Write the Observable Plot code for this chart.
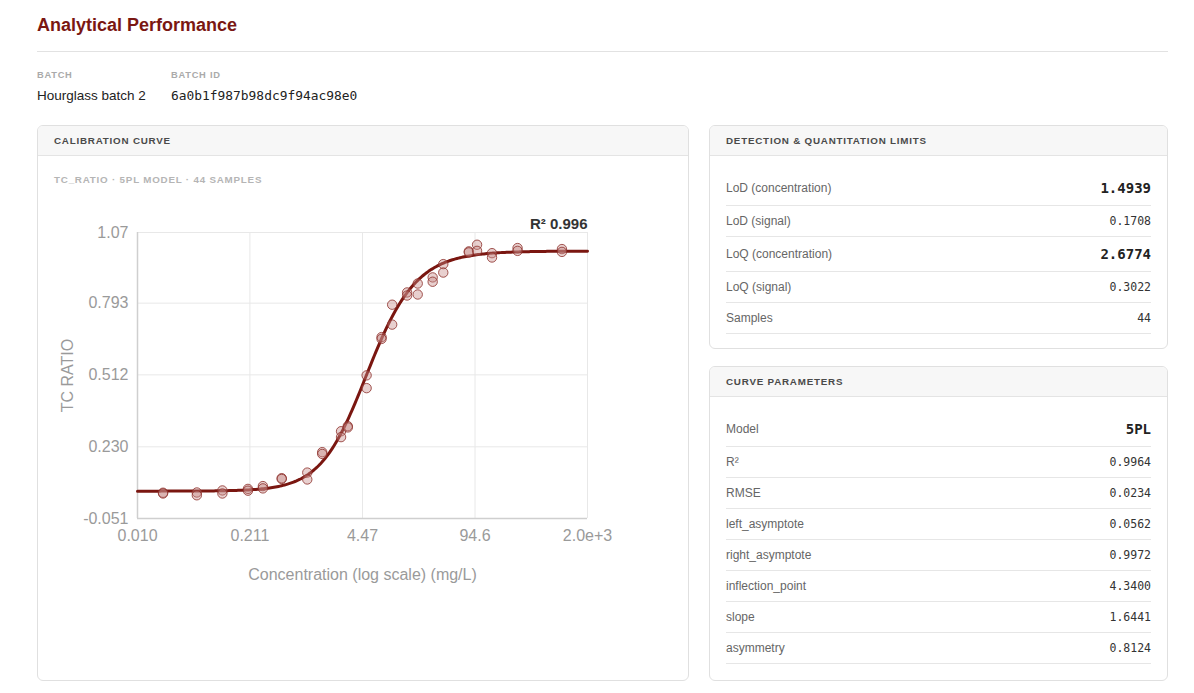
<!DOCTYPE html>
<html>
<head>
<meta charset="utf-8">
<script src="https://cdn.jsdelivr.net/npm/d3@7"></script>
<script src="https://cdn.jsdelivr.net/npm/@observablehq/plot@0.6"></script>
<style>
  html, body { margin: 0; padding: 0; background: #fff; }
  body { width: 1194px; height: 693px; position: relative; overflow: hidden;
         font-family: "Helvetica Neue", Helvetica, Arial, "Liberation Sans", sans-serif; color: #222; }
  .title { position: absolute; left: 37px; top: 13px; margin: 0; font-size: 18px; line-height: 24px;
           font-weight: 700; color: #7a1712; }
  .rule { position: absolute; left: 37px; top: 51px; width: 1131px; height: 1px; background: #e2e2e2; }
  .meta { position: absolute; top: 69px; }
  .meta .k { font-size: 9.3px; line-height: 12px; font-weight: 700; letter-spacing: 0.08em; color: #aaa; }
  .meta .v { margin-top: 6px; font-size: 13.5px; line-height: 18px; color: #222; }
  .meta .mono { font-family: "DejaVu Sans Mono", Menlo, monospace; font-size: 12.9px; }
  .panel { position: absolute; box-sizing: border-box; border: 1px solid #e0e0e0; border-radius: 6px;
           background: #fff; overflow: hidden; }
  .panel .head { height: 30px; box-sizing: border-box; border-bottom: 1px solid #e4e4e4; background: #f7f7f7;
                 padding-left: 16px; font-size: 9.8px; line-height: 30px; font-weight: 700;
                 letter-spacing: 0.08em; color: #4a4a4a; }
  .sub { position: absolute; left: 16px; top: 48px; font-size: 9.8px; line-height: 12px; font-weight: 700;
         letter-spacing: 0.08em; color: #b5b5b5; }
  #chart { position: absolute; left: 16px; top: 70px; }
  table { position: absolute; left: 16px; border-collapse: collapse; width: calc(100% - 32px); }
  td { height: 30px; padding: 0; border-bottom: 1px solid #e6e6e6; font-size: 12px; color: #666; }
  tr.big td { height: 34px; }
  td.val { text-align: right; font-family: "DejaVu Sans Mono", Menlo, monospace; font-size: 11.5px; color: #333; }
  tr.big td.val { font-size: 14px; font-weight: 700; color: #222; }
</style>
</head>
<body>
<h1 class="title">Analytical Performance</h1>
<div class="rule"></div>
<div class="meta" style="left:37px"><div class="k">BATCH</div><div class="v">Hourglass batch 2</div></div>
<div class="meta" style="left:171px"><div class="k">BATCH ID</div><div class="v mono">6a0b1f987b98dc9f94ac98e0</div></div>

<div class="panel" style="left:37px; top:125px; width:652px; height:556px;">
  <div class="head">CALIBRATION CURVE</div>
  <div class="sub">TC_RATIO · 5PL MODEL · 44 SAMPLES</div>
  <div id="chart"></div>
</div>

<div class="panel" style="left:709px; top:125px; width:459px; height:224px;">
  <div class="head">DETECTION &amp; QUANTITATION LIMITS</div>
  <table id="limits" style="top:44.5px"></table>
</div>

<div class="panel" style="left:709px; top:366px; width:459px; height:315px;">
  <div class="head">CURVE PARAMETERS</div>
  <table id="params" style="top:45px"></table>
</div>

<script>
// Calibration standards (mg/L), two replicate TC ratio readings each
const concentrations = [0.02, 0.05, 0.1, 0.2, 0.3, 0.5, 1, 1.5, 2.5, 3, 5, 7.5, 10, 15, 20, 30, 40, 80, 100, 150, 300, 1000];
const replicateA = [0.050, 0.051, 0.059, 0.065, 0.076, 0.107, 0.129, 0.209, 0.291, 0.311, 0.510, 0.660, 0.787, 0.835, 0.870, 0.894, 0.946, 0.996, 1.022, 0.989, 1.009, 1.005];
const replicateB = [0.047, 0.040, 0.047, 0.058, 0.067, 0.104, 0.102, 0.202, 0.268, 0.306, 0.460, 0.653, 0.709, 0.823, 0.827, 0.877, 0.913, 0.992, 0.998, 0.972, 0.998, 0.994];

// Axis ticks and their printed labels
const xTicks = [0.01, 0.211, 4.47, 94.6, 2000];
const xTickLabels = ["0.010", "0.211", "4.47", "94.6", "2.0e+3"];
const yTicks = [-0.051, 0.230, 0.512, 0.793, 1.07];
const yTickLabels = ["-0.051", "0.230", "0.512", "0.793", "1.07"];

// Fitted 5PL parameters
const paramLabels = ["Model", "R²", "RMSE", "left_asymptote", "right_asymptote", "inflection_point", "slope", "asymmetry"];
const paramValues = ["5PL", 0.9964, 0.0234, 0.0562, 0.9972, 4.3400, 1.6441, 0.8124];

// Detection and quantitation limits
const limitLabels = ["LoD (concentration)", "LoD (signal)", "LoQ (concentration)", "LoQ (signal)", "Samples"];
const limitValues = [1.4939, 0.1708, 2.6774, 0.3022, 44];
const limitBold = [true, false, true, false, false];

const [, r2, , A, D, C, B, G] = paramValues;
const fivePL = (x) => D + (A - D) / Math.pow(1 + Math.pow(x / C, B), G);

const samples = concentrations.flatMap((c, i) => [
  {conc: c, ratio: replicateA[i]},
  {conc: c, ratio: replicateB[i]}
]);
const lo = Math.log10(xTicks[0]), hi = Math.log10(xTicks[xTicks.length - 1]);
const curve = d3.range(0, 301).map((i) => {
  const x = Math.pow(10, lo + (hi - lo) * i / 300);
  return {conc: x, ratio: fivePL(x)};
});

const yLabel = new Map(yTicks.map((t, i) => [t, yTickLabels[i]]));
const axisFont = {fontSize: 16, fill: "#9a9a9a"};
const red = "#7a1610";

const chart = Plot.plot({
  width: 618,
  height: 420,
  marginTop: 36,
  marginLeft: 83,
  marginRight: 85,
  marginBottom: 98,
  style: {fontFamily: "'Helvetica Neue', Helvetica, Arial, 'Liberation Sans', sans-serif", background: "transparent"},
  x: {type: "log", domain: [xTicks[0], xTicks[xTicks.length - 1]], axis: null},
  y: {domain: [yTicks[0], yTicks[yTicks.length - 1]]},
  marks: [
    Plot.gridX(xTicks, {stroke: "#e8e8e8", strokeOpacity: 1}),
    Plot.gridY(yTicks, {stroke: "#e8e8e8", strokeOpacity: 1}),
    Plot.ruleX([xTicks[0]], {stroke: "#cfcfcf", strokeWidth: 1.5}),
    Plot.ruleY([yTicks[0]], {stroke: "#cfcfcf", strokeWidth: 1.5}),
    // x tick labels (log axis labels set as text so every tick is printed)
    Plot.text(xTicks, {x: (d) => d, text: (d, i) => xTickLabels[i], frameAnchor: "bottom",
                       lineAnchor: "top", dy: 11, ...axisFont}),
    Plot.axisY(yTicks, {tickSize: 0, tickPadding: 9, tickFormat: (d) => yLabel.get(d), label: null, ...axisFont}),
    Plot.line(curve, {x: "conc", y: "ratio", stroke: red, strokeWidth: 3, curve: "linear"}),
    Plot.dot(samples, {x: "conc", y: "ratio", r: 4.7, fill: "#c58a86", fillOpacity: 0.4,
                       stroke: "#8c2e29", strokeOpacity: 0.8, strokeWidth: 1}),
    Plot.text([`R² ${r2.toFixed(3)}`], {frameAnchor: "top-right", textAnchor: "end", dy: -14,
                                        fontSize: 15, fontWeight: 700, fill: "#333"}),
    Plot.text(["Concentration (log scale) (mg/L)"], {frameAnchor: "bottom", dy: 61, ...axisFont}),
    Plot.text(["TC RATIO"], {frameAnchor: "left", textAnchor: "middle", rotate: -90, dx: -70, ...axisFont})
  ]
});
document.getElementById("chart").appendChild(chart);

function fillTable(id, labels, values, bold) {
  const t = document.getElementById(id);
  labels.forEach((lab, i) => {
    const tr = document.createElement("tr");
    if (bold[i]) tr.className = "big";
    const a = document.createElement("td");
    a.textContent = lab;
    const b = document.createElement("td");
    const v = values[i];
    b.textContent = typeof v === "number" && !Number.isInteger(v) ? v.toFixed(4) : String(v);
    b.className = "val";
    tr.append(a, b);
    t.appendChild(tr);
  });
}
fillTable("limits", limitLabels, limitValues, limitBold);
fillTable("params", paramLabels, paramValues, paramLabels.map((l) => l === "Model"));
</script>
</body>
</html>
